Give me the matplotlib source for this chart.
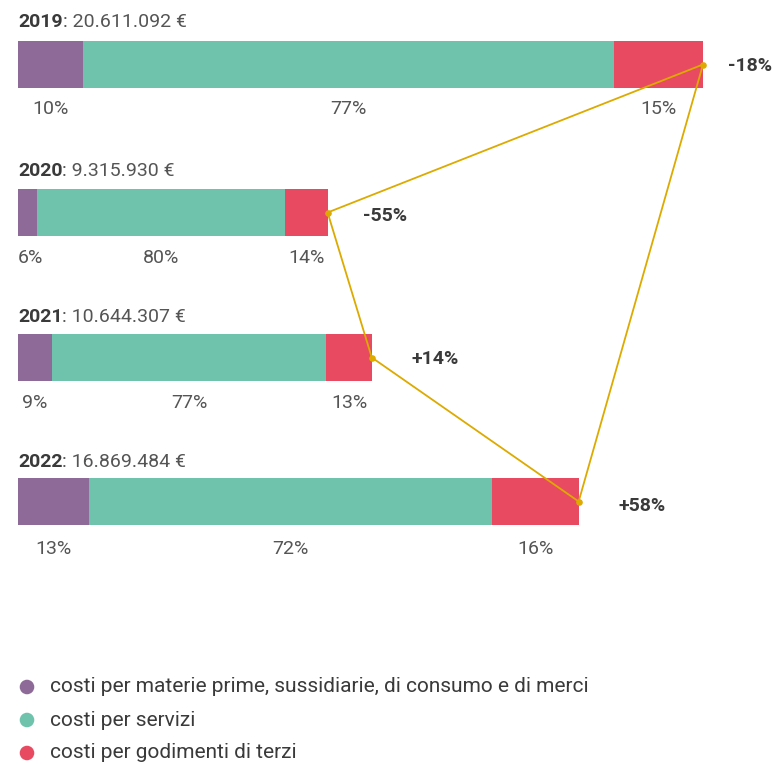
import matplotlib
matplotlib.use("Agg")
import matplotlib.pyplot as plt

years = ["2019", "2020", "2021", "2022"]
totals = [20611092, 9315930, 10644307, 16869484]
total_labels = ["20.611.092 €", "9.315.930 €", "10.644.307 €", "16.869.484 €"]
# segment shares (%)
share_materie = [9.5, 6.2, 9.6, 12.6]
share_servizi = [77.5, 80.0, 77.5, 71.9]
share_godimenti = [13.0, 13.8, 12.9, 15.5]
# printed percentage labels
lab_materie = ["10%", "6%", "9%", "13%"]
lab_servizi = ["77%", "80%", "77%", "72%"]
lab_godimenti = ["15%", "14%", "13%", "16%"]
changes = ["-18%", "-55%", "+14%", "+58%"]
legend_labels = ["costi per materie prime, sussidiarie, di consumo e di merci",
                 "costi per servizi",
                 "costi per godimenti di terzi"]

colors = ["#8D6A97", "#6FC3AC", "#E84B61"]
gold = "#DDAA00"
dark = "#3A3A3A"
grey = "#555555"

plt.rcParams['font.family'] = ['Roboto', 'DejaVu Sans']

W, H = 774, 764
fig = plt.figure(figsize=(W / 100, H / 100), dpi=100)
ax = fig.add_axes([0, 0, 1, 1])
scale = 20611092 / 685.0  # euros per pixel
x0 = 18
ax.set_xlim(-x0 * scale, (W - x0) * scale)
ax.set_ylim(H, 0)
ax.axis("off")

ycent = [64.5, 212.5, 357.5, 501.5]
bh = 47
title_y = [22, 171, 317, 462]
lab_y = [109, 258, 403, 549]

ends = []
for i in range(4):
    t = totals[i]
    shares = [share_materie[i], share_servizi[i], share_godimenti[i]]
    s = sum(shares)
    left = 0
    labs = [lab_materie[i], lab_servizi[i], lab_godimenti[i]]
    for j, (sh, c) in enumerate(zip(shares, colors)):
        w = t * sh / s
        ax.barh(ycent[i], w, left=left, height=bh, color=c, edgecolor="none")
        cx = left + w / 2
        ha = "center"
        if w / scale < 30:
            cx, ha = left, "left"
        ax.text(cx, lab_y[i], labs[j], ha=ha, va="center", fontsize=14,
                color=grey)
        left += w
    ends.append((t, ycent[i]))
    # title
    tt = ax.text(0, title_y[i], years[i], ha="left", va="center", fontsize=14,
                 color=dark, fontweight="bold")
    ax.annotate(": " + total_labels[i], xycoords=tt, xy=(1, 0.5), va="center",
                ha="left", fontsize=14, color=grey)

order = [0, 1, 2, 3, 0]
xs = [ends[k][0] for k in order]
ys = [ends[k][1] for k in order]
ax.plot(xs, ys, color=gold, lw=1.3, zorder=5)
ax.scatter([e[0] for e in ends], [e[1] for e in ends], s=14, color=gold, zorder=6)

chg_pos = [(750, 66), (385, 216), (435, 359), (642, 506)]
for (px, py), c in zip(chg_pos, changes):
    ax.text((px - x0) * scale, py, c, ha="center", va="center", fontsize=14,
            fontweight="bold", color=dark)

for k, (lab, c) in enumerate(zip(legend_labels, colors)):
    yy = 687 + 33 * k
    ax.scatter([(27 - x0) * scale], [yy], s=110, color=c, edgecolor="none")
    ax.text((50 - x0) * scale, yy, lab, ha="left", va="center", fontsize=15,
            color=dark)

fig.savefig("out.png", dpi=100)
